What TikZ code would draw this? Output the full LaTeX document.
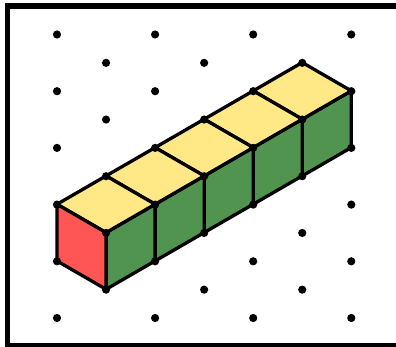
\documentclass[tikz,border=0pt]{standalone}
\definecolor{topyellow}{RGB}{255,232,133}
\definecolor{sidegreen}{RGB}{80,148,80}
\definecolor{frontred}{RGB}{255,85,85}
\tikzset{
  cubeface/.style={draw=black,line width=3.3pt,line join=round},
  gdot/.style={fill=black},
  framebox/.style={draw=black,line width=5.3pt,line join=miter}
}
\begin{document}
\begin{tikzpicture}[x=1pt,y=-1pt]
\useasboundingbox (0,0) rectangle (396,347);
\fill[white] (0,0) rectangle (396,347);
\begin{scope}
\clip (0,0) rectangle (396,347);
\draw[framebox] (7.8,6) rectangle (410,345.7);
\end{scope}
% one step along the row: dx=49.05, dy=-28.35
\foreach \i in {4,3,2,1,0}{
  \pgfmathsetmacro{\dx}{49.05*\i}
  \pgfmathsetmacro{\dy}{-28.35*\i}
  \begin{scope}[shift={(\dx,\dy)}]
    \draw[cubeface,fill=sidegreen] (106.05,232.6) -- (155.1,204.25) -- (155.1,260.95) -- (106.05,289.3) -- cycle;
    \draw[cubeface,fill=topyellow] (57,204.25) -- (106.05,175.9) -- (155.1,204.25) -- (106.05,232.6) -- cycle;
  \end{scope}
}
\draw[cubeface,fill=frontred] (57,204.25) -- (106.05,232.6) -- (106.05,289.3) -- (57,260.95) -- cycle;
% lattice dots
\foreach \r in {0,2,4,6,8,10}{
  \foreach \c in {0,2,4,6}{
    \fill[gdot] ({57+49.05*\c},{34.5+28.35*\r}) circle (4.1);
  }
}
\foreach \r in {1,3,5,7,9}{
  \foreach \c in {1,3,5}{
    \fill[gdot] ({57+49.05*\c},{34.5+28.35*\r}) circle (4.1);
  }
}
\end{tikzpicture}
\end{document}
